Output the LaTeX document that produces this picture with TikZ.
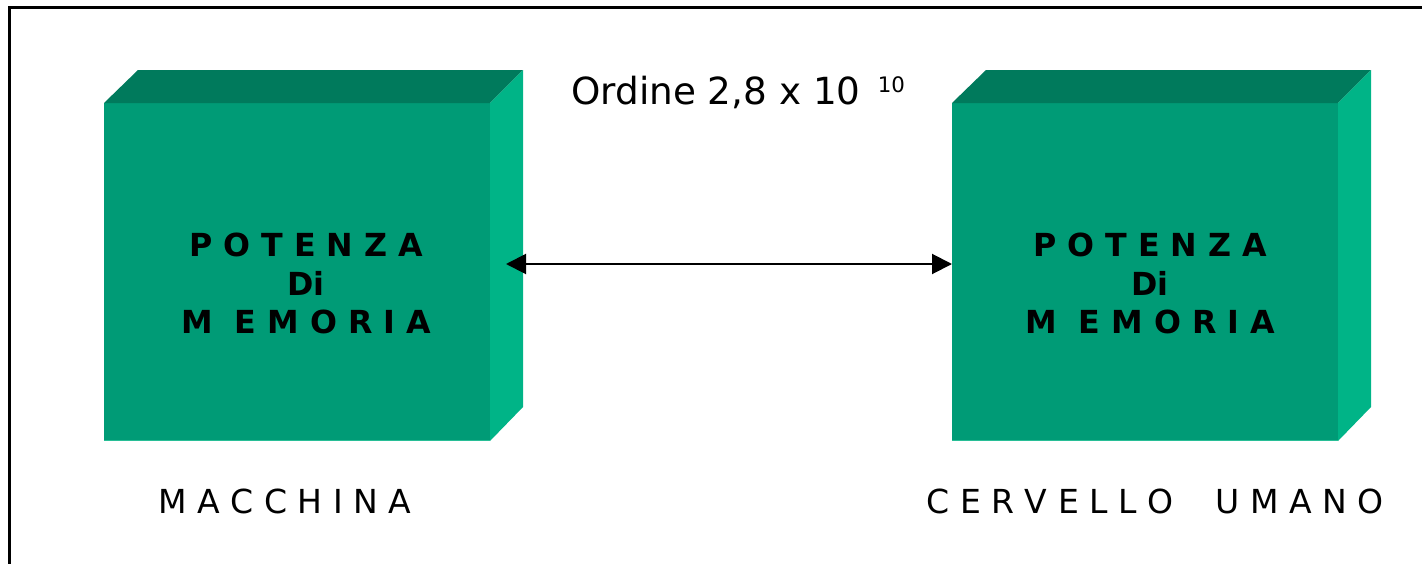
\documentclass[tikz,border=0pt]{standalone}
\usepackage{fontspec}
\setmainfont{DejaVu Sans}
\usetikzlibrary{arrows.meta}
\definecolor{frontc}{RGB}{0,155,118}
\definecolor{topc}{RGB}{0,122,92}
\definecolor{sidec}{RGB}{0,180,135}
\definecolor{edgec}{RGB}{40,190,150}
\tikzset{
  frontface/.style={fill=frontc, draw=none, inner sep=0pt, outer sep=0pt, anchor=north west,
    minimum width=289.5pt, minimum height=253.5pt},
  topface/.style={fill=topc, draw=none},
  sideface/.style={fill=sidec, draw=none},
  boxtext/.style={font=\fontsize{23.8pt}{28.9pt}\selectfont\bfseries, align=center, inner sep=0pt, text=black},
  labeltext/.style={font=\fontsize{24.8pt}{28pt}\selectfont, inner sep=0pt, anchor=base},
  link/.style={line width=1.5pt, {Triangle[length=15pt,width=15pt]}-{Triangle[length=15pt,width=15pt]}},
}
\begin{document}
\begin{tikzpicture}[x=0.75pt,y=-0.75pt]
\useasboundingbox (0,0) rectangle (1422,564);
% frame (top and left edges)
\draw[line width=1.9pt] (9.5,564) -- (9.5,7.3) -- (1422,7.3);
% cube 1
\node[frontface] (m1) at (104,103) {};
\fill[topface] (104,103) -- (138,70) -- (523,70) -- (490,103) -- cycle;
\fill[sideface] (490,103) -- (523,70) -- (523,407) -- (490,441) -- cycle;
\draw[edgec, line width=0.75pt] (104,440.5) -- (490,440.5);
% cube 2
\node[frontface] (m2) at (952,103) {};
\fill[topface] (952,103) -- (986,70) -- (1371,70) -- (1338,103) -- cycle;
\fill[sideface] (1338,103) -- (1371,70) -- (1371,407) -- (1338,441) -- cycle;
\draw[edgec, line width=0.75pt] (952,440.5) -- (1338,440.5);
% box texts
\node[boxtext, anchor=base] (t1) at (306,256) {P O T E N Z A};
\node[boxtext, anchor=base] (t1b) at (306,295) {Di};
\node[boxtext, anchor=base] (t1c) at (306,333) {M\ \ E M O R I A};
\node[boxtext, anchor=base] (t2) at (1150,256) {P O T E N Z A};
\node[boxtext, anchor=base] (t2b) at (1150,295) {Di};
\node[boxtext, anchor=base] (t2c) at (1150,333) {M\ \ E M O R I A};
% arrow
\draw[link] ([xshift=12pt,yshift=6pt]m1.east) -- ([yshift=6pt]m2.west);
% order label
\node[font=\fontsize{28pt}{32pt}\selectfont, inner sep=0pt, anchor=base west] (ord) at (571,104)
  {Ordine 2,8 x 10 \hspace{4pt}\raisebox{9pt}{\fontsize{16pt}{18pt}\selectfont 10}};
% bottom labels
\node[labeltext] (l1) at (285,513) {M A C C H I N A};
\node[labeltext] (l2) at (1155,513) {C E R V E L L O\ \ \ \ U M A N O};
\end{tikzpicture}
\end{document}
